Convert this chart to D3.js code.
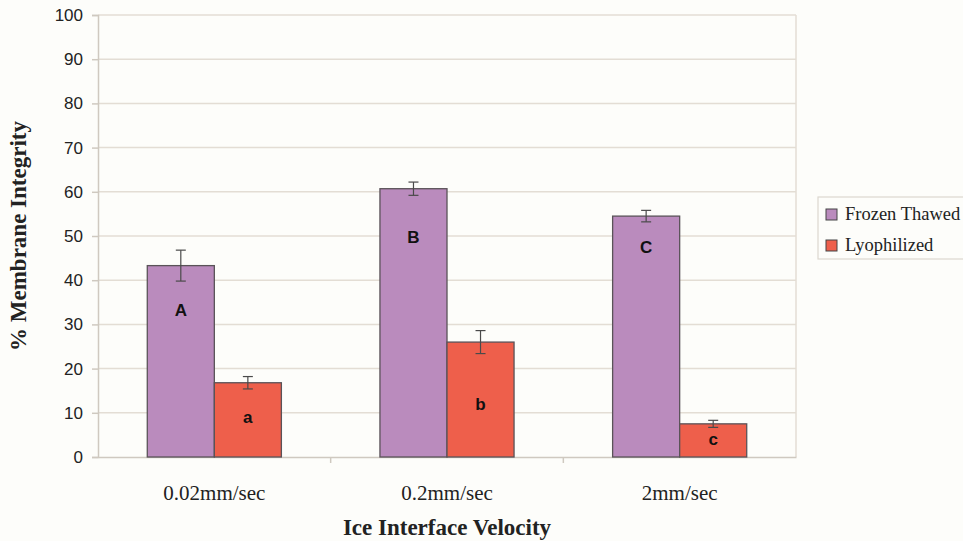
<!DOCTYPE html>
<html>
<head>
<meta charset="utf-8">
<script src="https://cdn.jsdelivr.net/npm/d3@7"></script>
<style>
  body { margin: 0; background: #fdfdfa; overflow: hidden; }
  svg { display: block; }
</style>
</head>
<body>
<svg id="chart" width="963" height="541"></svg>
<script>
// Datos del gráfico
const categorias = ["0.02mm/sec", "0.2mm/sec", "2mm/sec"];
const series = ["Frozen Thawed", "Lyophilized"];
const valoresFrozen = [43.3, 60.7, 54.5];
const erroresFrozen = [3.5, 1.5, 1.3];
const valoresLyo = [16.8, 26.0, 7.5];
const erroresLyo = [1.4, 2.6, 0.8];
const letrasFrozen = ["A", "B", "C"];
const letrasLyo = ["a", "b", "c"];
const letrasPosFrozen = [33, 49.5, 47.2];
const letrasPosLyo = [8.8, 11.7, 3.8];
const ticksY = [0, 10, 20, 30, 40, 50, 60, 70, 80, 90, 100];

const colores = { "Frozen Thawed": "#ba8bbd", "Lyophilized": "#ee5f4b" };

const svg = d3.select("#chart");
const margin = { top: 15, right: 167, bottom: 84, left: 98 };
const width = 963, height = 541;
const serif = "Liberation Serif, Times New Roman, serif";
const sans = "Liberation Sans, Arial, sans-serif";

const x = d3.scaleBand()
    .domain(categorias)
    .range([margin.left, width - margin.right])
    .paddingInner(0).paddingOuter(0);

const xSub = d3.scaleBand()
    .domain(series)
    .range([0, x.bandwidth()])
    .paddingInner(0)
    .paddingOuter(0.735);

const y = d3.scaleLinear()
    .domain([0, 100])
    .range([height - margin.bottom, margin.top]);

// Grid
svg.append("g")
    .selectAll("line")
    .data(ticksY.filter(d => d > 0))
    .join("line")
    .attr("x1", margin.left).attr("x2", width - margin.right)
    .attr("y1", d => y(d)).attr("y2", d => y(d))
    .attr("stroke", "#e3ddd4")
    .attr("stroke-width", 1.5);

// Borde derecho
svg.append("line")
    .attr("x1", width - margin.right).attr("x2", width - margin.right)
    .attr("y1", margin.top).attr("y2", height - margin.bottom)
    .attr("stroke", "#e3ddd4").attr("stroke-width", 1.5);

// Eje Y
const ejeY = svg.append("g")
    .attr("transform", `translate(${margin.left},0)`)
    .call(d3.axisLeft(y).tickValues(ticksY).tickSize(6).tickPadding(9));
ejeY.select(".domain").attr("stroke", "#cfc9c0").attr("stroke-width", 1.5);
ejeY.selectAll(".tick line").attr("stroke", "#cfc9c0").attr("stroke-width", 1.5);
ejeY.selectAll("text")
    .style("font-family", sans)
    .style("font-size", "17px")
    .attr("fill", "#222");

// Eje X
const ejeX = svg.append("g")
    .attr("transform", `translate(0,${height - margin.bottom})`)
    .call(d3.axisBottom(x).tickSize(0).tickPadding(28));
ejeX.select(".domain").attr("stroke", "#cfc9c0").attr("stroke-width", 1.5);
ejeX.selectAll("text")
    .style("font-family", serif)
    .style("font-size", "21px")
    .attr("fill", "#222");

// Marcas entre categorías
svg.append("g")
    .selectAll("line")
    .data(categorias.slice(1))
    .join("line")
    .attr("x1", d => x(d)).attr("x2", d => x(d))
    .attr("y1", height - margin.bottom).attr("y2", height - margin.bottom + 6)
    .attr("stroke", "#cfc9c0").attr("stroke-width", 1.5);

// Datos agrupados
const datos = categorias.map((c, i) => ({
    cat: c,
    barras: [
        { serie: series[0], valor: valoresFrozen[i], err: erroresFrozen[i], letra: letrasFrozen[i], pos: letrasPosFrozen[i] },
        { serie: series[1], valor: valoresLyo[i], err: erroresLyo[i], letra: letrasLyo[i], pos: letrasPosLyo[i] }
    ]
}));

const grupos = svg.append("g")
    .selectAll("g")
    .data(datos)
    .join("g")
    .attr("transform", d => `translate(${x(d.cat)},0)`);

const barras = grupos.selectAll("g")
    .data(d => d.barras)
    .join("g");

barras.append("rect")
    .attr("x", d => xSub(d.serie))
    .attr("width", xSub.bandwidth())
    .attr("y", d => y(d.valor))
    .attr("height", d => y(0) - y(d.valor))
    .attr("fill", d => colores[d.serie])
    .attr("stroke", "#5a5358")
    .attr("stroke-width", 1.3);

// Barras de error
const cx = d => xSub(d.serie) + xSub.bandwidth() / 2;
barras.append("line")
    .attr("x1", cx).attr("x2", cx)
    .attr("y1", d => y(d.valor + d.err)).attr("y2", d => y(d.valor - d.err))
    .attr("stroke", "#4a4a4a").attr("stroke-width", 1.2);
barras.append("line")
    .attr("x1", d => cx(d) - 5).attr("x2", d => cx(d) + 5)
    .attr("y1", d => y(d.valor + d.err)).attr("y2", d => y(d.valor + d.err))
    .attr("stroke", "#4a4a4a").attr("stroke-width", 1.2);
barras.append("line")
    .attr("x1", d => cx(d) - 5).attr("x2", d => cx(d) + 5)
    .attr("y1", d => y(d.valor - d.err)).attr("y2", d => y(d.valor - d.err))
    .attr("stroke", "#4a4a4a").attr("stroke-width", 1.2);

// Letras
barras.append("text")
    .attr("x", cx)
    .attr("y", d => y(d.pos))
    .attr("text-anchor", "middle")
    .attr("dominant-baseline", "middle")
    .style("font-family", sans)
    .style("font-size", "17px")
    .style("font-weight", "bold")
    .attr("fill", "#111")
    .text(d => d.letra);

// Títulos de ejes
svg.append("text")
    .attr("transform", `translate(26,${(margin.top + height - margin.bottom) / 2}) rotate(-90)`)
    .attr("text-anchor", "middle")
    .style("font-family", serif)
    .style("font-size", "23px")
    .style("font-weight", "bold")
    .attr("fill", "#222")
    .text("% Membrane Integrity");

svg.append("text")
    .attr("x", (margin.left + width - margin.right) / 2)
    .attr("y", 535)
    .attr("text-anchor", "middle")
    .style("font-family", serif)
    .style("font-size", "23px")
    .style("font-weight", "bold")
    .attr("fill", "#222")
    .text("Ice Interface Velocity");

// Leyenda
const leyenda = svg.append("g").attr("transform", "translate(818,197)");
leyenda.append("rect")
    .attr("width", 170).attr("height", 62)
    .attr("fill", "#fdfdfa")
    .attr("stroke", "#dcd7cf").attr("stroke-width", 1.2);

series.forEach((s, i) => {
    const fila = leyenda.append("g").attr("transform", `translate(8,${12 + i * 31})`);
    fila.append("rect")
        .attr("width", 11).attr("height", 11)
        .attr("fill", colores[s])
        .attr("stroke", "#444").attr("stroke-width", 1);
    fila.append("text")
        .attr("x", 19).attr("y", 11)
        .style("font-family", serif)
        .style("font-size", "18.5px")
        .attr("fill", "#222")
        .text(s);
});
</script>
</body>
</html>
